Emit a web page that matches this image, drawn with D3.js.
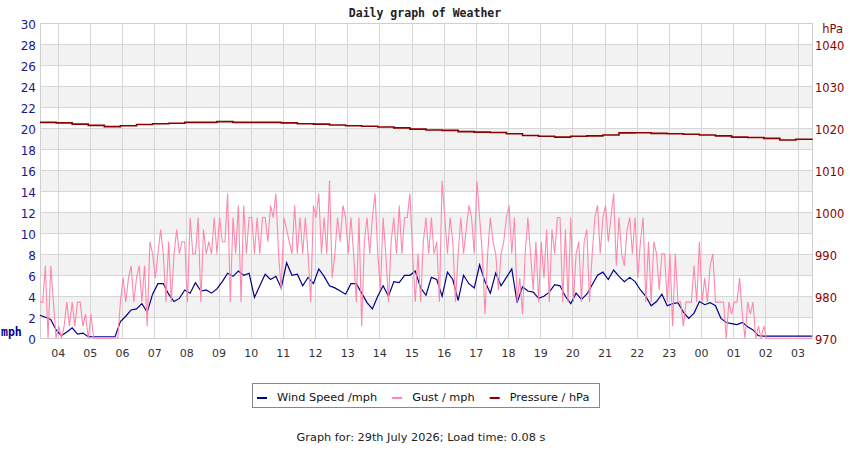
<!DOCTYPE html>
<html>
<head>
<meta charset="utf-8">
<script src="https://cdn.jsdelivr.net/npm/d3@7"></script>
<style>
  body { margin: 0; background: #fff; }
  svg { display: block; }
</style>
</head>
<body>
<svg id="chart" width="850" height="450"></svg>
<script>
// first sample of the day, then fixed sample steps
const startTime = new Date(2026, 6, 28, 3, 27);

// wind speed, mph, every 10 minutes
const windSpeed = [
  2.2, 2.0, 1.8, 0.8, 0.25, 0.6, 1.0, 0.4, 0.5, 0.15,
  0.15, 0.15, 0.15, 0.15, 0.15, 1.6, 2.1, 2.7, 2.8, 3.3,
  2.5, 4.2, 5.2, 5.2, 4.2, 3.5, 3.8, 4.6, 4.3, 5.3,
  4.5, 4.6, 4.3, 4.7, 5.4, 6.2, 5.9, 6.4, 6.0, 6.2,
  3.9, 5.0, 6.1, 5.6, 5.9, 4.8, 7.2, 6.0, 6.1, 5.0,
  5.8, 5.2, 6.6, 5.9, 5.0, 4.8, 4.5, 4.2, 5.2, 5.2,
  4.3, 3.4, 2.8, 4.0, 5.0, 4.0, 5.4, 5.3, 6.0, 6.0,
  6.4, 4.8, 4.1, 5.8, 5.6, 4.0, 6.3, 5.6, 3.6, 6.0,
  5.2, 4.8, 7.0, 5.4, 4.3, 6.2, 5.0, 5.8, 6.6, 3.4,
  4.9, 4.5, 4.4, 3.8, 4.0, 4.4, 5.1, 5.0, 4.0, 3.3,
  4.3, 3.7, 4.2, 5.1, 6.0, 6.3, 5.6, 6.5, 5.9, 5.4,
  5.8, 5.4, 4.6, 4.0, 3.1, 3.5, 4.2, 3.1, 3.3, 3.4,
  2.5, 1.9, 2.4, 3.5, 3.2, 3.4, 3.1, 1.9, 1.5, 1.4,
  1.3, 1.5, 1.1, 0.8, 0.25, 0.2, 0.2, 0.2, 0.2, 0.2,
  0.2, 0.2, 0.2, 0.2, 0.2
];

// gust, mph, every 5 minutes
const gust = [
  3.45, 3.45, 6.9, 0, 6.9, 3.45, 0, 1.15, 0, 1.15,
  3.45, 1.15, 3.45, 1.15, 3.45, 3.45, 1.15, 2.3, 0, 2.3,
  0, 0, 0, 0, 0, 0, 0, 0, 0, 0,
  3.45, 5.75, 3.45, 5.75, 6.9, 3.45, 5.75, 6.9, 3.45, 6.9,
  1.15, 9.2, 8.05, 5.75, 8.05, 10.35, 8.05, 3.45, 9.2, 3.45,
  8.05, 10.35, 8.05, 9.2, 9.2, 3.45, 11.5, 8.05, 8.05, 11.5,
  3.45, 10.35, 8.05, 9.2, 8.05, 11.5, 8.05, 11.5, 9.2, 9.2,
  13.8, 3.45, 11.5, 8.05, 12.65, 3.45, 12.65, 8.05, 11.5, 11.5,
  8.05, 11.5, 8.05, 11.5, 11.5, 9.2, 12.65, 11.5, 13.8, 8.05,
  4.6, 11.5, 10.35, 9.2, 8.05, 12.65, 8.05, 11.5, 8.05, 11.5,
  8.05, 3.45, 12.65, 11.5, 13.8, 8.05, 11.5, 8.05, 15.0, 5.75,
  8.05, 11.5, 9.2, 12.65, 11.5, 8.05, 11.5, 8.05, 3.45, 11.5,
  1.15, 9.2, 11.5, 8.05, 11.5, 13.8, 8.05, 4.6, 11.5, 8.05,
  3.45, 9.2, 11.5, 8.05, 12.65, 8.05, 11.5, 11.5, 13.8, 8.05,
  3.45, 8.05, 3.45, 9.2, 11.5, 8.05, 11.5, 8.05, 9.2, 3.45,
  15.0, 11.5, 8.05, 11.5, 9.2, 3.45, 8.05, 11.5, 8.05, 10.35,
  12.65, 11.5, 8.05, 15.0, 11.5, 8.05, 2.3, 8.05, 11.5, 9.2,
  8.05, 4.6, 8.05, 9.2, 11.5, 12.65, 8.05, 11.5, 3.45, 5.75,
  2.3, 8.05, 11.5, 8.05, 4.6, 9.2, 3.45, 9.2, 5.75, 10.35,
  3.45, 10.35, 8.05, 11.5, 11.5, 3.45, 10.35, 3.45, 11.5, 3.45,
  8.05, 9.2, 3.45, 9.2, 10.35, 3.45, 8.05, 11.5, 12.65, 8.05,
  11.5, 12.65, 9.2, 11.5, 13.8, 6.9, 11.5, 8.05, 6.9, 10.35,
  11.5, 8.05, 11.5, 5.75, 9.2, 11.5, 3.45, 9.2, 3.45, 9.2,
  8.05, 4.6, 8.05, 8.05, 3.45, 8.05, 1.15, 8.05, 3.45, 3.45,
  1.15, 3.45, 3.45, 3.45, 6.9, 3.45, 9.2, 3.45, 5.75, 3.45,
  6.9, 8.05, 3.45, 3.45, 3.45, 3.45, 0, 3.45, 2.3, 3.45,
  3.45, 5.75, 2.3, 0, 3.45, 2.3, 3.45, 0, 1.15, 0,
  1.15, 0, 0, 0, 0, 0, 0, 0, 0, 0,
  0, 0, 0, 0, 0, 0, 0, 0, 0
];

// pressure, hPa, every 30 minutes
const pressure = [
  1021.4, 1021.3, 1021.0, 1020.7, 1020.4, 1020.6, 1020.9, 1021.1, 1021.2, 1021.4,
  1021.4, 1021.6, 1021.4, 1021.4, 1021.4, 1021.3, 1021.1, 1021.0, 1020.8, 1020.6,
  1020.5, 1020.3, 1020.1, 1019.8, 1019.6, 1019.5, 1019.2, 1019.1, 1019.0, 1018.7,
  1018.3, 1018.1, 1017.9, 1018.1, 1018.2, 1018.4, 1018.9, 1018.95, 1018.8, 1018.7,
  1018.6, 1018.4, 1018.2, 1017.9, 1017.8, 1017.6, 1017.2, 1017.4, 1017.5
];

const mphTicks = [0, 2, 4, 6, 8, 10, 12, 14, 16, 18, 20, 22, 24, 26, 28, 30];
const hPaTicks = [970, 980, 990, 1000, 1010, 1020, 1030, 1040];

const seriesNames = ["Wind Speed /mph", "Gust / mph", "Pressure / hPa"];
const seriesColors = ["#000088", "#ff88aa", "#8b0000"];

const svg = d3.select("#chart");
const plotLeft = 40, plotRight = 812, plotTop = 23.3, plotBottom = 338.3;

const x = d3.scaleTime()
  .domain([startTime, d3.timeHour.offset(startTime, 24)])
  .range([plotLeft, plotRight]);
const y = d3.scaleLinear().domain([0, 30]).range([plotBottom, plotTop]);
const yP = d3.scaleLinear().domain([970, 1045]).range([plotBottom, plotTop]);

// alternate bands
svg.append("g")
  .selectAll("rect")
  .data(mphTicks.filter(d => d % 4 === 2 && d < 30))
  .enter()
  .append("rect")
  .attr("x", plotLeft)
  .attr("y", d => y(d + 2))
  .attr("width", plotRight - plotLeft)
  .attr("height", d => y(d) - y(d + 2))
  .attr("fill", "#f2f2f2");

const hours = x.ticks(d3.timeHour.every(1));

svg.append("g")
  .selectAll("line")
  .data(mphTicks)
  .enter()
  .append("line")
  .attr("x1", plotLeft)
  .attr("x2", plotRight)
  .attr("y1", d => Math.round(y(d)) + 0.5)
  .attr("y2", d => Math.round(y(d)) + 0.5)
  .attr("stroke", "#d6d6d6");

svg.append("g")
  .selectAll("line")
  .data(hours)
  .enter()
  .append("line")
  .attr("x1", d => Math.round(x(d)) + 0.5)
  .attr("x2", d => Math.round(x(d)) + 0.5)
  .attr("y1", plotTop)
  .attr("y2", plotBottom)
  .attr("stroke", "#d6d6d6");

// frame
svg.append("rect")
  .attr("x", plotLeft + 0.5)
  .attr("y", Math.round(plotTop) + 0.5)
  .attr("width", plotRight - plotLeft)
  .attr("height", Math.round(plotBottom) - Math.round(plotTop))
  .attr("fill", "none")
  .attr("stroke", "#cfcfcf");

// series
const windLine = d3.line()
  .x((d, i) => x(d3.timeMinute.offset(startTime, i * 10)))
  .y(d => y(d));
const gustLine = d3.line()
  .x((d, i) => x(d3.timeMinute.offset(startTime, i * 5)))
  .y(d => y(d));
const pressureLine = d3.line()
  .x((d, i) => x(d3.timeMinute.offset(startTime, i * 30)))
  .y(d => yP(d))
  .curve(d3.curveStepAfter);

svg.append("path")
  .datum(windSpeed)
  .attr("d", windLine)
  .attr("fill", "none")
  .attr("stroke", seriesColors[0])
  .attr("stroke-width", 1.2);

svg.append("path")
  .datum(gust)
  .attr("d", gustLine)
  .attr("fill", "none")
  .attr("stroke", seriesColors[1])
  .attr("stroke-width", 1.1);

svg.append("path")
  .datum(pressure)
  .attr("d", pressureLine)
  .attr("fill", "none")
  .attr("stroke", seriesColors[2])
  .attr("stroke-width", 1.6);

// axes
const font = "DejaVu Sans, sans-serif";
const mono = "DejaVu Sans Mono, monospace";

const xAxis = svg.append("g")
  .attr("transform", `translate(0,${plotBottom})`)
  .call(d3.axisBottom(x).tickValues(hours).tickFormat(d3.timeFormat("%H")).tickSize(0).tickPadding(11));
xAxis.select(".domain").remove();
xAxis.selectAll("text").attr("fill", "#333").style("font", `11px ${font}`);

const yAxis = svg.append("g")
  .attr("transform", `translate(${plotLeft},0)`)
  .call(d3.axisLeft(y).tickValues(mphTicks).tickSize(0).tickPadding(4));
yAxis.select(".domain").remove();
yAxis.selectAll("text").attr("fill", "#1a1a8c").attr("dy", "0.42em").style("font", `12px ${font}`);

const pAxis = svg.append("g")
  .attr("transform", `translate(${plotRight},0)`)
  .call(d3.axisRight(yP).tickValues(hPaTicks).tickFormat(d3.format("d")).tickSize(0).tickPadding(3));
pAxis.select(".domain").remove();
pAxis.selectAll("text").attr("fill", "#8b0000").attr("dy", "0.42em").style("font", `11.5px ${font}`);

svg.append("text")
  .attr("x", 843).attr("y", 33)
  .attr("text-anchor", "end")
  .attr("fill", "#8b0000")
  .style("font", `11.5px ${font}`)
  .text("hPa");

svg.append("text")
  .attr("x", 1).attr("y", 336)
  .attr("fill", "#00008b")
  .style("font", `bold 11.5px ${mono}`)
  .text("mph");

// title
svg.append("text")
  .attr("x", 425).attr("y", 17)
  .attr("text-anchor", "middle")
  .attr("fill", "#222")
  .style("font", `bold 11.5px ${mono}`)
  .text("Daily graph of Weather");

// legend
svg.append("rect")
  .attr("x", 252.5).attr("y", 383.5)
  .attr("width", 347).attr("height", 24)
  .attr("fill", "#fff")
  .attr("stroke", "#888");

let lx = 257;
seriesNames.forEach((name, i) => {
  svg.append("line")
    .attr("x1", lx).attr("x2", lx + 10)
    .attr("y1", 398).attr("y2", 398)
    .attr("stroke", seriesColors[i])
    .attr("stroke-width", 2);
  const t = svg.append("text")
    .attr("x", lx + 20).attr("y", 401)
    .attr("fill", "#111")
    .style("font", `11.3px ${font}`)
    .text(name);
  lx = lx + 20 + t.node().getComputedTextLength() + 15;
});

// footer
svg.append("text")
  .attr("x", 421).attr("y", 441)
  .attr("text-anchor", "middle")
  .attr("fill", "#222")
  .style("font", `11.3px ${font}`)
  .text("Graph for: 29th July 2026; Load time: 0.08 s");
</script>
</body>
</html>
